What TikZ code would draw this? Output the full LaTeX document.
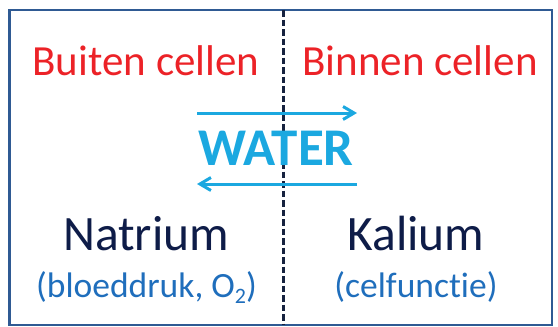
\documentclass[tikz,border=0pt]{standalone}
\usepackage{fontspec}
\setmainfont{Carlito}[Ligatures={NoCommon}]
\usetikzlibrary{arrows.meta}
\definecolor{cred}{HTML}{EC2227}
\definecolor{cnavy}{HTML}{0E1C48}
\definecolor{cblue}{HTML}{1F6EBC}
\definecolor{cwater}{HTML}{1BA8E0}
\definecolor{cframe}{HTML}{2F5A93}
\definecolor{cdash}{HTML}{16223F}
\tikzset{
  heading/.style={anchor=base, inner sep=0pt, text=cred, font=\fontsize{43}{50}\selectfont},
  ion/.style={anchor=base, inner sep=0pt, text=cnavy, font=\fontsize{49.5}{56}\selectfont},
  note/.style={anchor=base, inner sep=0pt, text=cblue, font=\fontsize{35.5}{42}\selectfont},
  flow/.style={draw=cwater, line width=3pt, -{Straight Barb[length=11pt,width=13pt,line width=3pt]}},
}
\begin{document}
\begin{tikzpicture}[x=1pt,y=-1pt]
\useasboundingbox (0,0) rectangle (558,327);
\draw[cframe, line width=2.6pt] (9.3,10) rectangle (552,325);
\coordinate (dtop) at (283,10);
\coordinate (dbot) at (283,325);
\draw[cdash, line width=3pt, dash pattern=on 6.5pt off 3pt] (dtop) -- (dbot);
\node[heading] (buiten) at (146,75) {Buiten cellen};
\node[heading] (binnen) at (420,75) {Binnen cellen};
\coordinate (a1s) at (197,113);
\coordinate (a1e) at (357,113);
\coordinate (a2s) at (357,184);
\coordinate (a2e) at (197,184);
\draw[flow] (a1s) -- (a1e);
\draw[flow] (a2s) -- (a2e);
\node[anchor=base, inner sep=0pt, text=cwater, font=\fontsize{53}{60}\selectfont\bfseries] (water) at (276,165) {WATER};
\node[ion] (natrium) at (146,250.5) {Natrium};
\node[ion] (kalium) at (416,250.5) {Kalium};
\node[note] (natnote) at (146.5,297) {(bloeddruk, O\raisebox{-6pt}{\fontsize{22}{24}\selectfont 2})};
\node[note] (kalnote) at (416,297) {(celfunctie)};
\end{tikzpicture}
\end{document}
